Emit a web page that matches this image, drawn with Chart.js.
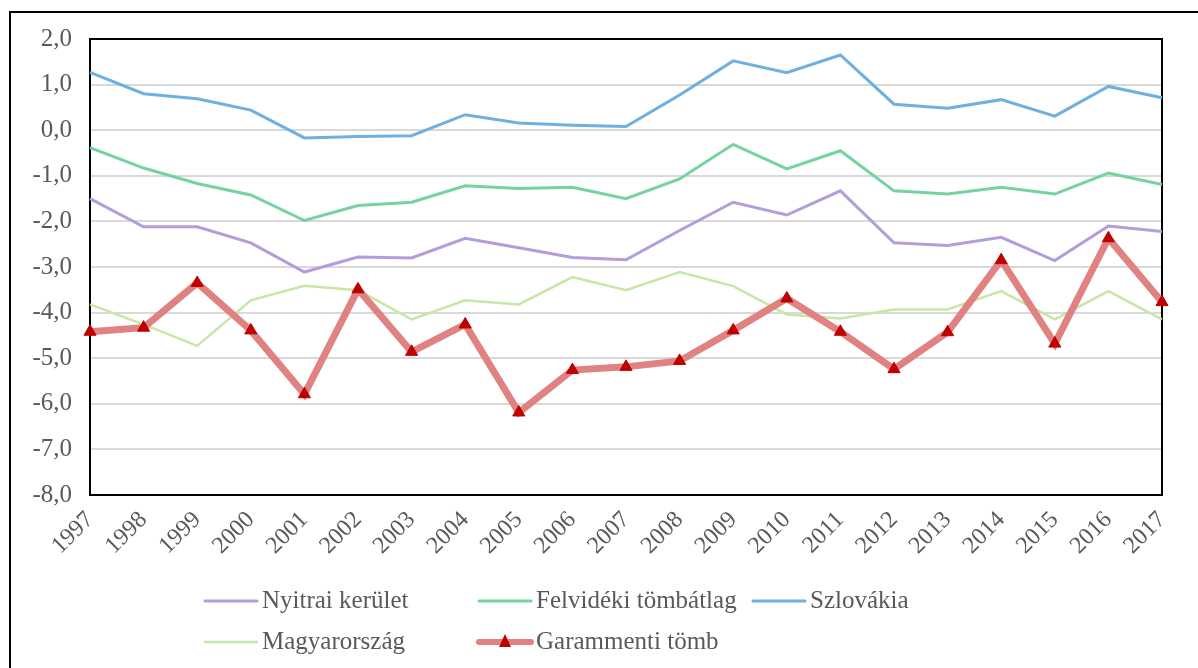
<!DOCTYPE html>
<html>
<head>
<meta charset="utf-8">
<script src="https://cdn.jsdelivr.net/npm/chart.js@4.4.1/dist/chart.umd.min.js"></script>
<style>
html, body { margin: 0; padding: 0; background: #fff; overflow: hidden; }
#wrap { position: relative; width: 1198px; height: 668px; }
#frame { position: absolute; left: 9px; top: 11px; width: 1300px; height: 800px; border: 2px solid #000; box-sizing: border-box; pointer-events: none; }
canvas { position: absolute; left: 0; top: 0; }
</style>
</head>
<body>
<div id="wrap">
    <canvas id="myChart" width="1198" height="668"></canvas>
    <div id="frame"></div>
</div>
<script>
const years = ['1997','1998','1999','2000','2001','2002','2003','2004','2005','2006','2007',
               '2008','2009','2010','2011','2012','2013','2014','2015','2016','2017'];

const nyitrai   = [-1.50,-2.12,-2.12,-2.47,-3.11,-2.78,-2.80,-2.37,-2.58,-2.79,-2.84,-2.20,-1.58,-1.86,-1.33,-2.47,-2.53,-2.35,-2.86,-2.10,-2.22];
const felvideki = [-0.38,-0.83,-1.17,-1.42,-1.98,-1.65,-1.58,-1.22,-1.28,-1.25,-1.50,-1.07,-0.31,-0.85,-0.45,-1.33,-1.40,-1.25,-1.40,-0.94,-1.19];
const szlovakia = [1.27,0.80,0.69,0.44,-0.17,-0.14,-0.12,0.34,0.16,0.11,0.08,0.77,1.52,1.26,1.65,0.57,0.48,0.67,0.31,0.96,0.71];
const magyar    = [-3.82,-4.26,-4.73,-3.73,-3.41,-3.51,-4.15,-3.73,-3.82,-3.22,-3.51,-3.11,-3.42,-4.04,-4.13,-3.93,-3.93,-3.53,-4.15,-3.53,-4.15];
const garam     = [-4.42,-4.33,-3.35,-4.39,-5.79,-3.49,-4.86,-4.26,-6.19,-5.26,-5.19,-5.06,-4.39,-3.69,-4.42,-5.24,-4.43,-2.85,-4.68,-2.37,-3.77];

const labels = ['Nyitrai kerület', 'Felvidéki tömbátlag', 'Szlovákia', 'Magyarország', 'Garammenti tömb'];

const fontFamily = '"Liberation Serif", "Times New Roman", serif';
const textColor = '#595959';

function lineSet(label, data, color, width){
    return {
        label: label,
        data: data,
        borderColor: color,
        backgroundColor: color,
        borderWidth: width,
        pointRadius: 0,
        tension: 0,
        order: 1
    };
}

const datasets = [
    lineSet(labels[0], nyitrai, '#B39DDB', 3),
    lineSet(labels[1], felvideki, '#74D3A0', 3),
    lineSet(labels[2], szlovakia, '#6EB0DF', 3),
    lineSet(labels[3], magyar, '#C8E6A6', 2.5),
    {
        label: labels[4],
        data: garam,
        borderColor: '#E08282',
        backgroundColor: '#C00000',
        borderWidth: 7,
        pointStyle: 'triangle',
        pointRadius: 7,
        pointBackgroundColor: '#C00000',
        pointBorderColor: '#C00000',
        pointBorderWidth: 1,
        tension: 0,
        order: 0
    }
];

// black frame round the plot area
const plotBorder = {
    id: 'plotBorder',
    beforeDatasetsDraw(chart){
        const a = chart.chartArea;
        const ctx = chart.ctx;
        ctx.save();
        ctx.strokeStyle = '#000';
        ctx.lineWidth = 2;
        ctx.strokeRect(a.left, a.top, a.right - a.left, a.bottom - a.top);
        ctx.restore();
    }
};

// excel-like legend laid out in fixed columns
const gridLegend = {
    id: 'gridLegend',
    afterDraw(chart){
        const ctx = chart.ctx;
        const startX = 205, colW = 274, rowY = [601, 642], lineLen = 52;
        ctx.save();
        ctx.font = '25px ' + fontFamily;
        ctx.textBaseline = 'middle';
        chart.data.datasets.forEach((ds, i) => {
            const x = startX + (i % 3) * colW;
            const y = rowY[Math.floor(i / 3)];
            ctx.strokeStyle = ds.borderColor;
            ctx.lineWidth = Math.min(ds.borderWidth, 6);
            ctx.lineCap = 'round';
            ctx.beginPath();
            ctx.moveTo(x, y);
            ctx.lineTo(x + lineLen, y);
            ctx.stroke();
            if(ds.pointStyle){
                ctx.fillStyle = ds.pointBackgroundColor;
                ctx.beginPath();
                ctx.moveTo(x + lineLen / 2, y - 8);
                ctx.lineTo(x + lineLen / 2 + 6, y + 5);
                ctx.lineTo(x + lineLen / 2 - 6, y + 5);
                ctx.closePath();
                ctx.fill();
            }
            ctx.fillStyle = textColor;
            ctx.textAlign = 'left';
            ctx.fillText(ds.label, x + lineLen + 5, y);
        });
        ctx.restore();
    }
};

const ctx = document.querySelector('#myChart').getContext('2d');
const myChart = new Chart(ctx, {
    type: 'line',
    data: {
        labels: years,
        datasets: datasets
    },
    options: {
        responsive: false,
        animation: false,
        layout: {
            padding: { left: 20, top: 39, right: 36, bottom: 100 }
        },
        plugins: {
            legend: { display: false },
            tooltip: { enabled: false }
        },
        scales: {
            y: {
                min: -8,
                max: 2,
                afterFit: scale => { scale.width = 70; },
                grid: {
                    color: '#D9D9D9',
                    lineWidth: 2,
                    drawTicks: false
                },
                border: { display: false },
                ticks: {
                    stepSize: 1,
                    padding: 18,
                    color: textColor,
                    font: { family: fontFamily, size: 25 },
                    callback: v => v.toFixed(1).replace('.', ',')
                }
            },
            x: {
                afterFit: scale => { scale.height = 73; },
                grid: { display: false, drawTicks: false },
                border: { display: false },
                ticks: {
                    autoSkip: false,
                    minRotation: 45,
                    maxRotation: 45,
                    padding: 11,
                    color: textColor,
                    font: { family: fontFamily, size: 24 }
                }
            }
        }
    },
    plugins: [plotBorder, gridLegend]
});
</script>
</body>
</html>
